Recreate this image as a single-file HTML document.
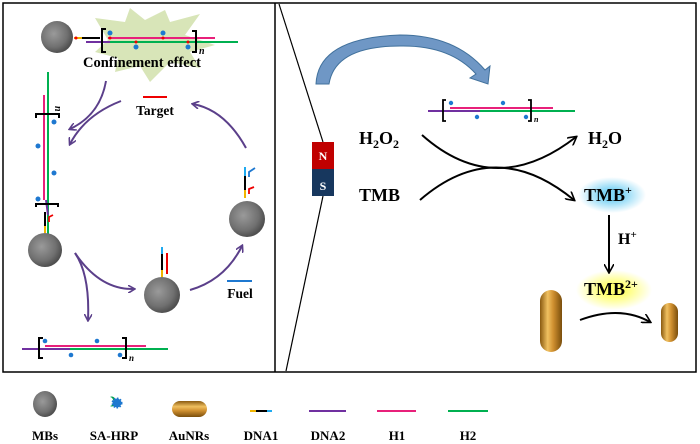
<!DOCTYPE html>
<html><head><meta charset="utf-8"><style>
body{margin:0;background:#fff}
svg{display:block;font-family:"Liberation Serif",serif;font-weight:bold}
</style></head><body>
<svg width="700" height="444" viewBox="0 0 700 444" xmlns="http://www.w3.org/2000/svg">
<defs>
<radialGradient id="mb" cx="40%" cy="40%" r="60%"><stop offset="0" stop-color="#9a9a9a"/><stop offset="0.7" stop-color="#707070"/><stop offset="1" stop-color="#505050"/></radialGradient>
<linearGradient id="au" x1="0" x2="1" y1="0" y2="0"><stop offset="0" stop-color="#8a5a10"/><stop offset="0.35" stop-color="#f0c060"/><stop offset="0.6" stop-color="#d09030"/><stop offset="1" stop-color="#7a4e0c"/></linearGradient>
<linearGradient id="auh" x1="0" x2="0" y1="0" y2="1"><stop offset="0" stop-color="#8a5a10"/><stop offset="0.35" stop-color="#f0c060"/><stop offset="0.6" stop-color="#d09030"/><stop offset="1" stop-color="#7a4e0c"/></linearGradient>
<radialGradient id="bg1"><stop offset="0.3" stop-color="#7fd4f5"/><stop offset="1" stop-color="#7fd4f5" stop-opacity="0"/></radialGradient>
<radialGradient id="yg1"><stop offset="0.3" stop-color="#ffff70"/><stop offset="1" stop-color="#ffff70" stop-opacity="0"/></radialGradient>
<marker id="pa" markerWidth="8" markerHeight="8" refX="6" refY="4" orient="auto" markerUnits="userSpaceOnUse"><path d="M0,0 L7,4 L0,8" fill="none" stroke="#5b3f8a" stroke-width="1.6"/></marker>
<marker id="ka" markerWidth="10" markerHeight="10" refX="8" refY="5" orient="auto" markerUnits="userSpaceOnUse"><path d="M0,0 L9,5 L0,10" fill="none" stroke="#000" stroke-width="1.6"/></marker>
</defs>
<rect x="3" y="3" width="693" height="369" fill="none" stroke="#000" stroke-width="1.5"/>
<line x1="275" y1="3" x2="275" y2="372" stroke="#000" stroke-width="1.5"/>
<polyline points="279,4 323,142" fill="none" stroke="#000" stroke-width="1.2"/>
<polyline points="323,196 286,371" fill="none" stroke="#000" stroke-width="1.2"/>
<polygon points="95,18 125,22 130,8 145,20 165,10 170,22 200,14 185,35 215,45 190,52 200,68 170,62 150,82 140,66 115,72 118,58 95,52 108,40" fill="#d8e5b8"/>
<circle cx="57" cy="37" r="16" fill="url(#mb)"/>
<line x1="74" y1="38" x2="82" y2="38" stroke="#f0b400" stroke-width="2"/>
<line x1="82" y1="38" x2="100" y2="38" stroke="#000" stroke-width="2"/>
<line x1="86" y1="42" x2="110" y2="42" stroke="#7030a0" stroke-width="2"/>
<line x1="108" y1="38" x2="215" y2="38" stroke="#e8207a" stroke-width="2"/>
<line x1="110" y1="42" x2="238" y2="42" stroke="#00b050" stroke-width="2"/>
<path d="M106,29 H102 V52 H106" fill="none" stroke="#000" stroke-width="2"/>
<path d="M192,31 H196 V52 H192" fill="none" stroke="#000" stroke-width="2"/>
<text x="199" y="54" font-size="10" font-style="italic">n</text>
<g fill="#1e78d0"><circle cx="110" cy="33" r="2.5"/><circle cx="163" cy="33" r="2.5"/><circle cx="136" cy="47" r="2.5"/><circle cx="188" cy="47" r="2.5"/></g>
<g fill="#e00"><circle cx="110" cy="38" r="1.5"/><circle cx="163" cy="38" r="1.5"/><circle cx="136" cy="42" r="1.5"/><circle cx="188" cy="42" r="1.5"/><circle cx="76" cy="38" r="1.5"/></g>
<text x="142" y="67" font-size="14.5" text-anchor="middle">Confinement effect</text>
<line x1="143" y1="97" x2="167" y2="97" stroke="#e00" stroke-width="2"/>
<text x="155" y="115" font-size="13.5" text-anchor="middle">Target</text>
<line x1="48" y1="72" x2="48" y2="255" stroke="#00b050" stroke-width="2"/>
<line x1="44" y1="95" x2="44" y2="200" stroke="#e8207a" stroke-width="2"/>
<line x1="46" y1="200" x2="48" y2="215" stroke="#7030a0" stroke-width="2"/>
<path d="M36,118 V114 H59 V118" fill="none" stroke="#000" stroke-width="2"/>
<path d="M36,207 V204 H58 V207" fill="none" stroke="#000" stroke-width="2"/>
<text x="55" y="106" font-size="10" font-style="italic" transform="rotate(90 55 106)">n</text>
<g fill="#1e78d0"><circle cx="54" cy="122" r="2.5"/><circle cx="38" cy="146" r="2.5"/><circle cx="54" cy="173" r="2.5"/><circle cx="38" cy="199" r="2.5"/></g>
<line x1="45" y1="212" x2="45" y2="226" stroke="#000" stroke-width="2"/>
<line x1="45" y1="226" x2="45" y2="233" stroke="#f0b400" stroke-width="2"/>
<path d="M49,222 V217 L53,215" fill="none" stroke="#e00" stroke-width="1.8"/>
<circle cx="45" cy="250" r="17" fill="url(#mb)"/>
<line x1="162" y1="247" x2="162" y2="254" stroke="#1eaaf0" stroke-width="2"/>
<line x1="162" y1="254" x2="162" y2="270" stroke="#000" stroke-width="2"/>
<line x1="162" y1="270" x2="162" y2="277" stroke="#f0b400" stroke-width="2"/>
<line x1="167" y1="253" x2="167" y2="274" stroke="#e00" stroke-width="2"/>
<circle cx="162" cy="295" r="18" fill="url(#mb)"/>
<line x1="245" y1="167" x2="245" y2="176" stroke="#1eaaf0" stroke-width="2"/>
<line x1="245" y1="176" x2="245" y2="190" stroke="#000" stroke-width="2"/>
<line x1="245" y1="190" x2="245" y2="198" stroke="#f0b400" stroke-width="2"/>
<path d="M249,177 V172 L255,168" fill="none" stroke="#1e78d0" stroke-width="1.8"/>
<path d="M249,194 V189 L254,187" fill="none" stroke="#e00" stroke-width="1.8"/>
<circle cx="247" cy="219" r="18" fill="url(#mb)"/>
<line x1="227" y1="281" x2="252" y2="281" stroke="#1e78d0" stroke-width="2"/>
<text x="240" y="298" font-size="13.5" text-anchor="middle">Fuel</text>
<line x1="22" y1="349" x2="70" y2="349" stroke="#7030a0" stroke-width="2"/>
<line x1="45" y1="346" x2="146" y2="346" stroke="#e8207a" stroke-width="2"/>
<line x1="70" y1="349" x2="168" y2="349" stroke="#00b050" stroke-width="2"/>
<path d="M43,338 H39 V358 H43" fill="none" stroke="#000" stroke-width="2"/>
<path d="M122,338 H126 V358 H122" fill="none" stroke="#000" stroke-width="2"/>
<text x="129" y="361" font-size="9" font-style="italic">n</text>
<g fill="#1e78d0"><circle cx="45" cy="341" r="2.3"/><circle cx="97" cy="341" r="2.3"/><circle cx="71" cy="355" r="2.3"/><circle cx="120" cy="355" r="2.3"/></g>
<g fill="none" stroke="#5b3f8a" stroke-width="2" marker-end="url(#pa)">
<path d="M106,81 Q100,115 70,129"/>
<path d="M121,101 Q85,115 70,144"/>
<path d="M246,148 Q225,110 193,104"/>
<path d="M75,253 Q100,290 134,289"/>
<path d="M75,253 Q90,275 88,320"/>
<path d="M190,290 Q225,280 242,246"/>
</g>
<rect x="312" y="142" width="22" height="27" fill="#c00000"/>
<rect x="312" y="169" width="22" height="27" fill="#17375e"/>
<text x="323" y="160" font-size="12" fill="#fff" text-anchor="middle">N</text>
<text x="323" y="190" font-size="12" fill="#fff" text-anchor="middle">S</text>
<path d="M316,84 Q318,38 400,35 Q455,35 485,70 L490,66 L488,84 L470,78 L476,74 Q450,45 400,46 Q335,46 329,84 Z" fill="#6f97c5" stroke="#41719c" stroke-width="1"/>
<line x1="428" y1="111" x2="575" y2="111" stroke="#7030a0" stroke-width="2"/>
<line x1="450" y1="108" x2="553" y2="108" stroke="#e8207a" stroke-width="2"/>
<line x1="480" y1="111" x2="575" y2="111" stroke="#00b050" stroke-width="2"/>
<path d="M446,100 H443 V121 H446" fill="none" stroke="#000" stroke-width="1.8"/>
<path d="M528,100 H531 V121 H528" fill="none" stroke="#000" stroke-width="1.8"/>
<text x="534" y="122" font-size="8" font-style="italic">n</text>
<g fill="#1e78d0"><circle cx="451" cy="103" r="2.2"/><circle cx="503" cy="103" r="2.2"/><circle cx="477" cy="117" r="2.2"/><circle cx="526" cy="117" r="2.2"/></g>
<text x="359" y="144" font-size="18">H<tspan font-size="12" dy="4">2</tspan><tspan dy="-4">O</tspan><tspan font-size="12" dy="4">2</tspan></text>
<text x="359" y="201" font-size="18">TMB</text>
<text x="588" y="144" font-size="18">H<tspan font-size="12" dy="4">2</tspan><tspan dy="-4">O</tspan></text>
<ellipse cx="612" cy="195" rx="34" ry="18" fill="url(#bg1)"/>
<text x="584" y="201" font-size="18">TMB<tspan font-size="12" dy="-7">+</tspan></text>
<ellipse cx="614" cy="290" rx="38" ry="20" fill="url(#yg1)"/>
<text x="584" y="295" font-size="18">TMB<tspan font-size="12" dy="-7">2+</tspan></text>
<text x="618" y="244" font-size="16">H<tspan font-size="11" dy="-6">+</tspan></text>
<g fill="none" stroke="#000" stroke-width="2" marker-end="url(#ka)">
<path d="M422,135 Q495,200 576,137"/>
<path d="M420,200 Q495,135 574,200"/>
<path d="M609,215 V272"/>
<path d="M580,320 Q620,305 650,322"/>
</g>
<rect x="540" y="290" width="22" height="62" rx="11" fill="url(#au)"/>
<rect x="661" y="303" width="17" height="39" rx="8.5" fill="url(#au)"/>
<ellipse cx="45" cy="404" rx="12" ry="13" fill="url(#mb)"/>
<path d="M110,406 a4,5 0 1 0 0,-9 a3,4 0 1 1 0,9z" fill="#00a050"/>
<circle cx="117" cy="403" r="4.5" fill="#1e78d0" stroke="#1e78d0" stroke-width="2" stroke-dasharray="1.5 1.5"/>
<rect x="172" y="401" width="35" height="16" rx="8" fill="url(#auh)"/>
<line x1="250" y1="411" x2="256" y2="411" stroke="#f0b400" stroke-width="2"/>
<line x1="256" y1="411" x2="267" y2="411" stroke="#000" stroke-width="2"/>
<line x1="267" y1="411" x2="272" y2="411" stroke="#1eaaf0" stroke-width="2"/>
<line x1="309" y1="411" x2="346" y2="411" stroke="#7030a0" stroke-width="2"/>
<line x1="377" y1="411" x2="416" y2="411" stroke="#e8207a" stroke-width="2"/>
<line x1="448" y1="411" x2="488" y2="411" stroke="#00b050" stroke-width="2"/>
<g font-size="13" text-anchor="middle">
<text x="45" y="440">MBs</text><text x="114" y="440">SA-HRP</text><text x="189" y="440">AuNRs</text>
<text x="261" y="440">DNA1</text><text x="328" y="440">DNA2</text><text x="397" y="440">H1</text><text x="468" y="440">H2</text>
</g>
</svg>
</body></html>
